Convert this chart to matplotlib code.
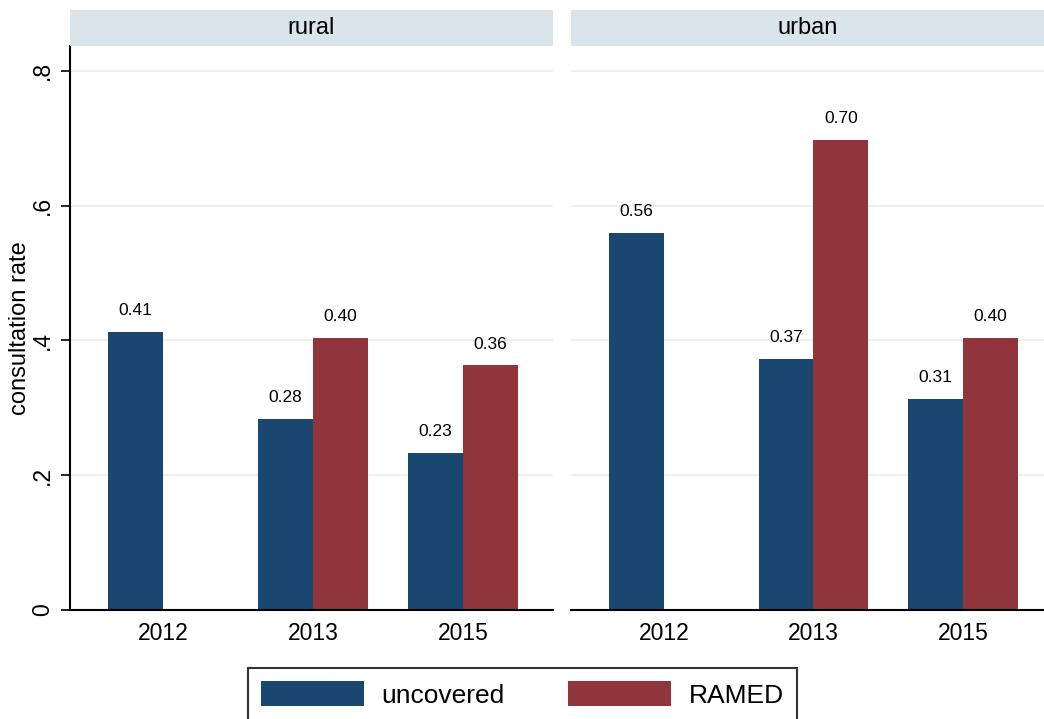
import numpy as np
import matplotlib
matplotlib.use("Agg")
import matplotlib.pyplot as plt
from matplotlib.patches import Patch

plt.rcParams['font.family'] = ['Liberation Sans', 'DejaVu Sans']

# data
years = ['2012', '2013', '2015']
panels = ['rural', 'urban']
uncovered = {'rural': [0.413, 0.283, 0.233], 'urban': [0.560, 0.372, 0.313]}
ramed = {'rural': [np.nan, 0.404, 0.363], 'urban': [np.nan, 0.697, 0.404]}

BLUE = '#1a476f'
RED = '#90353b'
STRIP = '#d9e5eb'
GRID = '#eaf2f3'

W, H = 1044, 719
fig = plt.figure(figsize=(W / 100, H / 100), dpi=100)

def px_axes(x0, y0, x1, y1):
    # pixel box (top-left origin) -> figure axes
    return fig.add_axes([x0 / W, 1 - y1 / H, (x1 - x0) / W, (y1 - y0) / H])

boxes = {'rural': (70, 553), 'urban': (571, 1053)}
bw = 0.367
x = np.arange(len(years))

for i, name in enumerate(panels):
    x0, x1 = boxes[name]
    ax = px_axes(x0, 46, x1, 610)
    ax.set_xlim(-0.62, 2.60)
    ax.set_ylim(0, 0.837)

    ax.bar(x - bw / 2, uncovered[name], width=bw, color=BLUE, zorder=2)
    ax.bar(x + bw / 2, ramed[name], width=bw, color=RED, zorder=2)

    for xs, vals in ((x - bw / 2, uncovered[name]), (x + bw / 2, ramed[name])):
        for xi, v in zip(xs, vals):
            if np.isnan(v):
                continue
            ax.annotate('%.2f' % v, (xi, v), xytext=(0, 10), textcoords='offset points',
                        ha='center', va='bottom', fontsize=12.5)

    ax.set_yticks([0, 0.2, 0.4, 0.6, 0.8])
    ax.yaxis.grid(True, color=GRID, lw=1.5, zorder=0)
    ax.set_axisbelow(True)
    ax.set_xticks(x)
    ax.set_xticklabels(years, fontsize=16.5)
    ax.tick_params(axis='x', length=0, pad=9)
    for s in ('top', 'right'):
        ax.spines[s].set_visible(False)
    ax.spines['bottom'].set_linewidth(1.5)

    if i == 0:
        ax.set_yticklabels(['0', '.2', '.4', '.6', '.8'], rotation=90,
                           va='center', fontsize=16.5)
        ax.tick_params(axis='y', length=6.5, width=1.2, pad=5)
        ax.spines['left'].set_linewidth(1.5)
        ax.set_ylabel('consultation rate', fontsize=17, labelpad=0)
    else:
        ax.spines['left'].set_visible(False)
        ax.tick_params(axis='y', length=0, labelleft=False)

    # panel header strip
    sx = px_axes(x0, 10, x1, 46)
    sx.set_facecolor(STRIP)
    sx.set_xticks([])
    sx.set_yticks([])
    for s in sx.spines.values():
        s.set_visible(False)
    cx = 0.5 if name == 'rural' else (808 - x0) / (x1 - x0)
    sx.text(cx, 0.5, name, ha='center', va='center', fontsize=17, transform=sx.transAxes)

handles = [Patch(facecolor=BLUE, label='uncovered'), Patch(facecolor=RED, label='RAMED')]
leg = fig.legend(handles=handles, loc='upper center', ncol=2,
                 bbox_to_anchor=(522.5 / W, 1 - 668 / H), fontsize=19,
                 handlelength=3.9, handleheight=1.06, handletextpad=0.68,
                 columnspacing=2.4, borderpad=0.5, borderaxespad=0,
                 frameon=True, fancybox=False)
leg.get_frame().set_edgecolor('black')
leg.get_frame().set_linewidth(1.5)

fig.savefig('out.png', dpi=100)
